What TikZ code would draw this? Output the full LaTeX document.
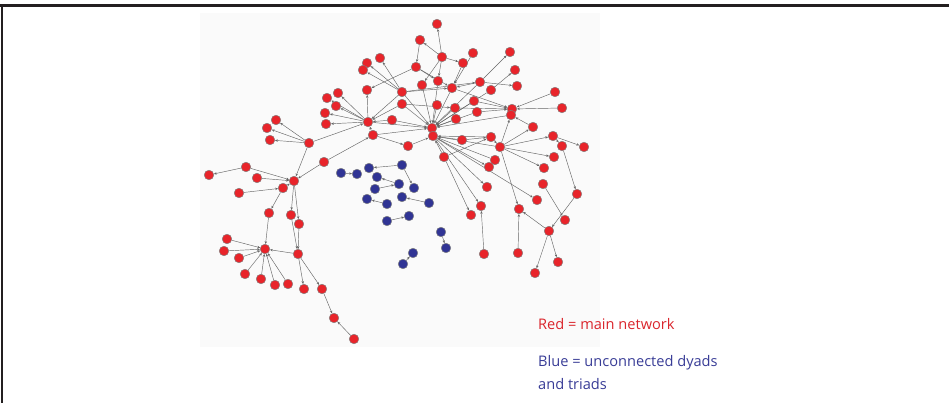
\documentclass[tikz,border=0pt]{standalone}
\usepackage{fontspec}
\setmainfont{Open Sans}
\usetikzlibrary{arrows.meta}
\definecolor{netred}{RGB}{232,36,42}
\definecolor{netblue}{RGB}{48,52,148}
\definecolor{txtred}{RGB}{218,37,44}
\definecolor{txtblue}{RGB}{56,60,150}
\definecolor{panelgray}{RGB}{250,250,250}
\definecolor{rulegray}{RGB}{35,31,32}
\pgfdeclarelayer{bglayer}
\pgfdeclarelayer{edgelayer}
\pgfsetlayers{bglayer,edgelayer,main}
\begin{document}
\begin{tikzpicture}[x=1pt,y=-1pt,
  rnode/.style={circle,draw=black!50,line width=0.45pt,fill=netred,inner sep=0pt,minimum size=9.6pt},
  bnode/.style={circle,draw=black!50,line width=0.45pt,fill=netblue,inner sep=0pt,minimum size=9.6pt},
  link/.style={draw=black!60,line width=0.45pt,-{Stealth[length=2.8pt,width=2.4pt]}},
  legend/.style={anchor=base west,inner sep=0pt,font=\fontsize{14.6}{17}\selectfont}]
\useasboundingbox (0,0) rectangle (949,403);
\begin{pgfonlayer}{bglayer}
  \fill[panelgray] (200,13) rectangle (600,347);
  \draw[rulegray,line width=2.6pt] (0,5.5) -- (949,5.5);
  \draw[rulegray,line width=2.2pt] (2.2,4.2) -- (2.2,403);
\end{pgfonlayer}
% main network
\foreach \n/\x/\y in {
  t1/437/24, t2/420/40, t3/442/57, t4/473/53, t5/463/63, t6/510/52, t7/515/70,
  t8/416/67, t9/380/58, t10/367/63, t11/363/70, t12/438/81, t13/422/85, t14/452/88,
  t15/480/82, t16/491/90, t17/517/86, t18/555/92, t19/562/108, t20/367/90, t21/402/92,
  t22/338/93, t23/327/98, t24/336/106, t25/325/113, t26/326/124, t27/402/104,
  t28/437/105, t29/455/108, t30/474/101, t31/477/112, t32/512/109, t33/511/115,
  t34/456/119, t35/392/120, t36/368/122, t37/373/135, t38/432/128, t39/433/136,
  t40/533/127, t41/462/140, t42/491/137, t43/408/146, t44/500/147, t45/444/157,
  t46/495/160, t47/553/136, t48/562/146, t49/584/147, t50/554/157, t51/544/168,
  t52/489/167, t53/543/184, t54/487/187, t55/577/194, t56/537/200, t57/481/206,
  t58/471/215, t59/519/209, t60/565/220, t61/549/231, t62/484/254, t63/518/253,
  t64/558/262, t65/535/273,
  l1/276/120, l2/267/128, l3/270/140, l4/309/143, l5/324/162, l6/246/167, l7/209/175,
  l8/257/178, l9/294/181, l10/283/188, l11/239/193, l12/269/213, l13/291/215,
  l14/299/224, l15/227/239, l16/224/251, l17/265/249, l18/239/258, l19/298/254,
  l20/245/274, l21/261/279, l22/275/285, l23/288/284, l24/304/289, l25/322/289,
  l26/334/318, l27/354/339}
  \node[rnode] (\n) at (\x,\y) {};
% unconnected dyads and triads
\foreach \n/\x/\y in {
  b1/341/173, b2/357/174, b3/369/168, b4/402/165, b5/377/177, b6/399/184,
  b7/414/188, b8/375/189, b9/367/199, b10/387/204, b11/402/197, b12/429/203,
  b13/387/221, b14/409/216, b15/441/232, b16/446/248, b17/413/253, b18/403/264}
  \node[bnode] (\n) at (\x,\y) {};
\begin{pgfonlayer}{edgelayer}
\foreach \a/\b in {
  t3/t1, t3/t2, t2/t8, t3/t12, t3/t13, t3/t5, t4/t14, t5/t14, t15/t6, t16/t7,
  t15/t17, t8/t20, t8/t12, t8/t14, t21/t9, t21/t10, t21/t11, t21/t14, t21/t15,
  t21/t38, t13/t38, t12/t38, t14/t38, t14/t32, t15/t14, t15/t38, t16/t38,
  t18/t32, t19/t32, t29/t32, t31/t32, t30/t32, t33/t38, t40/t33, t27/t29,
  t27/t38, t27/t36, t21/t36, t36/t20, t36/t22, t36/t23, t36/t24, t36/t25,
  t36/t26, t35/t36, t35/t38, t36/t38, t37/t38, t37/t36, t37/t43, t43/t39,
  t28/t38, t29/t38, t34/t38, t31/t38, t30/t38, t41/t39, t42/t39, t44/t39,
  t46/t39, t45/t39, t45/t42, t45/t58, t39/t57, t39/t54, t39/t52, t39/t56,
  t41/t42, t42/t44, t44/t40, t44/t47, t44/t50, t44/t51, t44/t59, t44/t33,
  t47/t49, t47/t48, t48/t55, t55/t61, t61/t65, t61/t64, t61/t59, t53/t60,
  t63/t59, t62/t57,
  l4/l1, l4/l2, l4/l3, l4/t36, l4/l9, l5/l9, l5/t37, l6/l7, l6/l9, l8/l9,
  l11/l10, l10/l9, l10/l12, l9/l13, l9/l14, l12/l17, l13/l19, l14/l19,
  l15/l17, l16/l17, l18/l17, l20/l17, l21/l17, l22/l17, l23/l17, l19/l17,
  l19/l24, l19/l25, l25/l26, l27/l26,
  b1/b2, b4/b3, b4/b7, b6/b5, b8/b6, b10/b9, b12/b11, b13/b14, b15/b16, b18/b17}
  \draw[link] (\a) -- (\b);
\end{pgfonlayer}
% legend
\node[legend,text=txtred] (legred) at (538,329) {Red = main network};
\node[legend,text=txtblue] (legblueA) at (538,366) {Blue = unconnected dyads};
\node[legend,text=txtblue] (legblueB) at (538,389) {and triads};
\end{tikzpicture}
\end{document}
